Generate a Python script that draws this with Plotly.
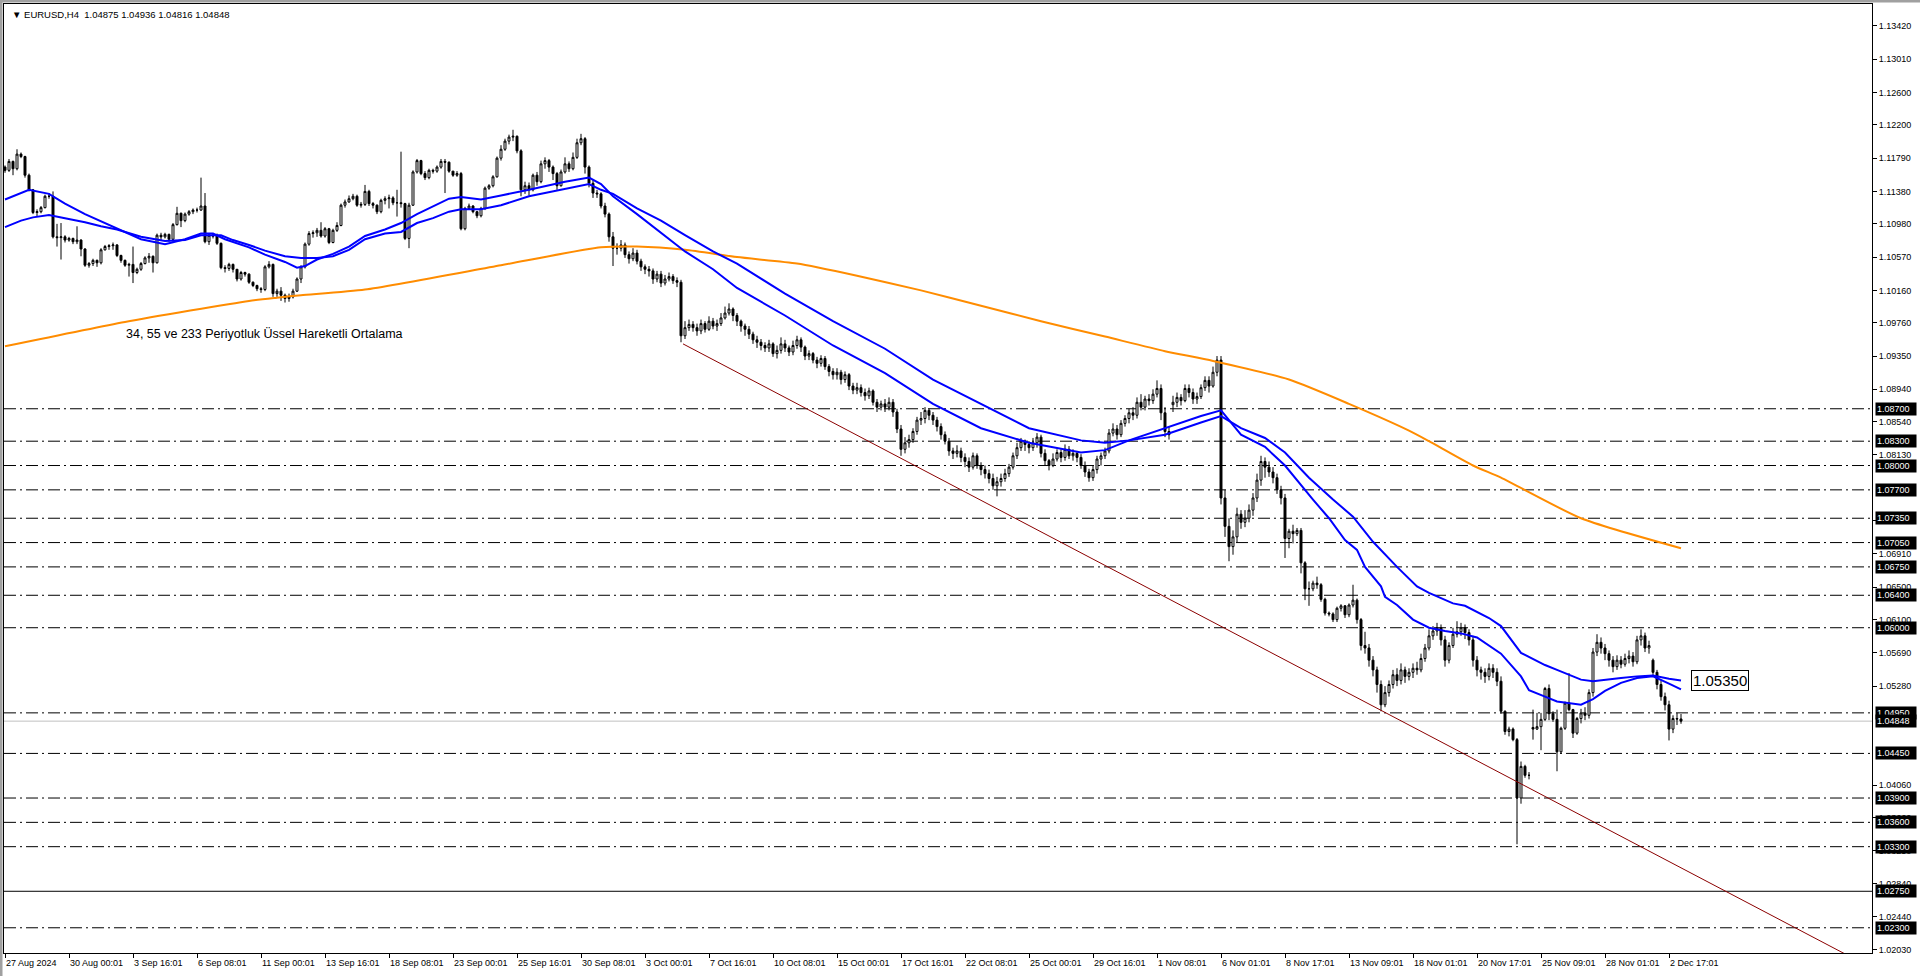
import plotly.graph_objects as go

FONT = "Liberation Sans"
PIP = 1e-4          # price = BASE + value * PIP
BASE = 1.0

# ---------------- candle data (EURUSD H4, values in pips above 1.0000) ----------------
first_open = 1168
gap_bars = [292, 382, 412]      # Monday gap opens
gap_opens = [875, 477, 560]

closes = [
 1164,1175,1166,1184,
 1181,1158,1140,1112,1113,1118,
 1132,1132,1082,1081,1082,1078,
 1080,1076,1078,1067,1047,1049,
 1053,1050,1066,1070,1071,1072,
 1059,1053,1047,1048,1038,1042,
 1049,1056,1058,1050,1084,1082,
 1085,1079,1097,1111,1102,1110,
 1113,1115,1115,1120,1076,1084,
 1083,1074,1044,1043,1048,1042,
 1030,1038,1036,1026,1022,1018,
 1017,1045,1048,1012,1015,1010,
 1006,1008,1015,1030,1045,1073,
 1086,1087,1090,1083,1092,1075,
 1090,1096,1121,1125,1129,1132,
 1121,1122,1138,1123,1121,1113,
 1127,1129,1130,1124,1124,1123,
 1080,1121,1162,1176,1160,1155,
 1164,1163,1168,1175,1174,1163,
 1158,1160,1092,1117,1120,1113,
 1108,1117,1142,1145,1156,1179,
 1190,1200,1205,1206,1188,1140,
 1145,1140,1158,1150,1172,1176,
 1168,1160,1145,1162,1172,1166,
 1180,1198,1203,1168,1148,1136,
 1135,1120,1110,1082,1068,1068,
 1072,1060,1055,1062,1052,1045,
 1042,1040,1030,1036,1025,1030,
 1033,1028,1026,960,970,974,
 970,966,975,968,978,972,
 975,982,988,993,985,978,
 972,968,962,955,952,948,
 945,950,938,942,950,945,
 940,948,955,946,935,938,
 930,926,932,922,916,912,
 915,906,912,898,893,896,
 890,886,892,878,872,876,
 872,878,866,845,820,828,
 832,842,856,858,868,862,
 856,848,838,830,818,815,
 818,810,805,798,812,800,
 795,790,784,775,780,784,
 790,798,812,822,830,826,
 822,828,835,815,806,800,
 808,816,810,820,812,815,
 810,800,792,785,795,808,
 812,818,840,845,838,852,
 858,865,862,878,872,882,
 880,888,895,865,842,838,
 878,884,880,895,890,882,
 885,896,905,898,915,930,
 760,725,700,712,740,730,
 735,745,760,782,805,798,
 792,785,770,760,710,719,
 716,720,680,648,648,655,
 653,635,618,617,610,624,
 627,616,628,634,610,578,
 575,560,548,530,505,520,
 530,542,535,548,540,545,
 550,548,562,575,590,596,
 600,585,560,578,592,595,
 600,594,585,560,548,545,
 540,550,545,534,497,472,
 475,462,390,429,418,418,
 475,478,487,525,494,487,
 447,476,507,499,470,488,
 495,492,520,570,582,575,
 568,560,552,560,555,562,
 565,558,585,590,575,578,
 545,530,515,505,475,488,
 487.5,484.8,
]

highs = [
 1170,1178,1176,1190,
 1186,1182,1160,1141,1116,1120,
 1134,1136,1138,1098,1099,1084,
 1082,1081,1095,1079,1068,1051,
 1055,1054,1068,1072,1073,1075,
 1073,1060,1054,1050,1070,1044,
 1051,1058,1062,1059,1086,1087,
 1087,1086,1099,1119,1112,1112,
 1115,1117,1118,1155,1136,1086,
 1086,1086,1075,1047,1050,1049,
 1042,1040,1039,1037,1027,1023,
 1020,1047,1052,1049,1018,1020,
 1012,1012,1018,1032,1047,1075,
 1089,1090,1093,1100,1094,1093,
 1092,1100,1123,1128,1133,1135,
 1134,1125,1146,1140,1125,1122,
 1129,1132,1134,1132,1140,1187,
 1124,1124,1164,1178,1177,1163,
 1166,1166,1170,1178,1178,1175,
 1163,1163,1162,1119,1123,1121,
 1114,1119,1144,1147,1158,1181,
 1195,1203,1208,1214,1207,1190,
 1150,1149,1160,1162,1176,1180,
 1178,1170,1162,1165,1180,1175,
 1186,1203,1209,1205,1170,1152,
 1140,1137,1124,1112,1088,1074,
 1078,1075,1064,1068,1066,1055,
 1048,1046,1043,1040,1040,1035,
 1038,1036,1032,1029,978,980,
 978,975,980,978,984,982,
 980,988,996,1000,995,988,
 980,975,972,965,960,956,
 952,955,952,948,958,955,
 948,954,960,958,948,942,
 940,934,936,935,925,920,
 920,918,916,914,902,902,
 900,895,896,894,882,880,
 882,884,882,870,850,835,
 838,846,860,866,872,870,
 866,860,852,842,834,822,
 825,822,815,810,816,815,
 804,800,795,790,786,790,
 796,802,816,828,834,832,
 830,834,840,838,820,808,
 815,820,820,826,824,820,
 818,814,805,796,800,812,
 816,822,845,852,850,856,
 862,870,872,884,888,886,
 888,894,905,900,872,848,
 886,890,888,900,900,895,
 890,900,910,910,922,935,
 935,770,735,720,748,745,
 745,752,766,790,812,810,
 805,798,790,775,765,722,
 727,723,723,682,657,658,
 663,655,637,620,619,626,
 629,628,630,653,636,612,
 595,580,565,552,535,528,
 535,548,550,556,552,550,
 556,558,568,580,598,602,
 606,604,590,582,600,608,
 606,604,598,590,565,552,
 550,556,555,550,540,498,
 478,477,464,435,431,422,
 499,495,495,527,530,497,
 499,478,509,544,500,490,
 500,502,524,575,592,588,
 580,572,565,566,565,568,
 572,570,590,598,594,584,
 562,548,535,520,510,492,
 495,493.6,
]

lows = [
 1161,1162,1158,1164,
 1179,1155,1138,1110,1107,1111,
 1117,1129,1080,1070,1054,1075,
 1076,1073,1073,1058,1045,1044,
 1046,1045,1048,1065,1066,1066,
 1057,1050,1045,1033,1025,1036,
 1040,1048,1050,1038,1049,1078,
 1080,1076,1076,1096,1094,1100,
 1108,1110,1112,1114,1074,1072,
 1080,1072,1042,1038,1040,1038,
 1027,1028,1033,1024,1020,1015,
 1013,1015,1043,1008,1008,1003,
 1001,1002,1006,1014,1025,1043,
 1071,1081,1082,1081,1081,1073,
 1074,1088,1095,1118,1124,1127,
 1119,1118,1120,1120,1117,1110,
 1111,1122,1117,1121,1107,1118,
 1078,1068,1120,1160,1158,1152,
 1153,1160,1161,1166,1136,1161,
 1156,1156,1090,1090,1116,1111,
 1105,1106,1115,1140,1143,1155,
 1176,1188,1196,1200,1185,1132,
 1135,1133,1138,1145,1148,1166,
 1162,1152,1140,1144,1160,1162,
 1164,1178,1195,1160,1143,1130,
 1130,1117,1106,1076,1046,1060,
 1064,1056,1049,1052,1048,1040,
 1036,1033,1024,1026,1020,1022,
 1027,1024,1020,952,956,966,
 965,960,962,964,966,968,
 966,972,980,985,978,972,
 965,960,956,950,945,942,
 940,940,934,932,938,940,
 935,936,944,940,930,930,
 926,920,922,918,910,906,
 906,900,902,893,888,888,
 885,880,882,874,866,868,
 866,868,860,840,812,815,
 822,828,838,850,852,856,
 850,842,832,826,812,808,
 810,804,798,792,795,796,
 788,784,778,770,762,774,
 780,786,795,808,818,818,
 815,818,822,810,800,794,
 798,805,804,806,808,806,
 804,796,786,780,781,790,
 800,808,815,836,832,835,
 848,852,856,858,868,868,
 874,876,884,856,835,832,
 866,872,874,878,884,876,
 876,882,892,890,896,910,
 752,712,682,690,705,722,
 724,730,738,755,775,785,
 786,778,765,752,686,698,
 704,713,667,634,627,645,
 648,632,615,614,607,607,
 620,612,613,625,605,572,
 568,552,540,520,497,502,
 515,525,528,530,532,535,
 538,542,545,558,572,585,
 590,578,552,556,575,588,
 590,586,578,552,540,536,
 532,535,538,528,494,468,
 466,460,333,383,415,413,
 462,474,449,485,486,484,
 423,445,474,497,464,468,
 482,486,488,515,565,568,
 560,552,545,548,550,552,
 556,552,555,578,570,568,
 540,524,510,498,461,470,
 480,481.6,
]

# ---------------- moving averages (bar index, pips) ----------------
ema34_x = [0,6,11,15,20,24,28,34,40,45,49,52,55,61,65,70,73,75,78,82,86,90,95,99,103,107,111,114,119,124,
           131,140,146,149,152,158,164,170,177,183,195,207,220,232,244,256,269,275,281,290,299,304,309,315,320,
           327,331,335,338,340,344,345,348,352,356,360,364,368,371,374,379,381,385,388,394,397,400,404,408,412,416,419]
ema34_y = [1128,1140,1135,1123,1110,1101,1092,1079,1073,1079,1086,1086,1079,1069,1060,1051,1044,1046,1054,1061,
           1070,1083,1091,1099,1110,1120,1129,1131,1128,1133,1140,1150,1155,1147,1132,1110,1087,1064,1042,1019,
           985,948,914,876,846,828,816,819,831,846,861,868,838,823,800,758,735,708,696,675,
           651,638,628,610,600,596,593,588,578,568,540,523,515,509,505,512,522,532,538,540,531,524]

ema55_x = [0,4,7,11,15,20,24,28,34,40,45,49,54,57,61,65,70,74,78,82,86,90,95,99,103,107,111,114,119,124,
           131,146,149,152,158,164,170,177,183,195,207,220,232,244,256,269,275,281,290,299,304,309,315,320,326,
           332,337,342,348,353,356,362,365,371,374,379,381,385,388,394,397,400,404,408,412,416,419]
ema55_y = [1094,1102,1106,1109,1105,1100,1095,1091,1082,1077,1078,1084,1084,1078,1072,1065,1058,1056,1056,1058,
           1066,1079,1086,1088,1099,1105,1113,1116,1116,1121,1132,1147,1140,1135,1117,1102,1084,1064,1049,1012,
           978,944,906,876,846,831,828,831,838,853,861,846,834,816,785,758,737,706,675,651,
           643,630,627,612,602,569,564,554,548,536,534,536,538,540,541,537,535]

ema233_x = [0,30,61,68,74,90,124,149,158,170,183,198,213,229,244,259,275,290,302,321,336,351,356,367,374,394,419]
ema233_y = [947,977,1003,1007,1010,1017,1047,1069,1070,1066,1057,1049,1034,1016,997,978,959,941,929,906,876,843,830,800,785,735,698]

trend_x = [169.5, 463]
trend_y = [950, 190]

# ---------------- levels, axes ----------------
dash_levels = [1.0870, 1.0830, 1.0800, 1.0770, 1.0735, 1.0705, 1.0675, 1.0640, 1.0600,
               1.0495, 1.0445, 1.0390, 1.0360, 1.0330, 1.0230]
solid_levels = [1.0275]
ema_label_value = 1.05350

ytick_vals = [1.13420, 1.13010, 1.12600, 1.12200, 1.11790, 1.11380, 1.10980, 1.10570, 1.10160, 1.09760,
              1.09350, 1.08940, 1.08540, 1.08130, 1.07320, 1.06910, 1.06500, 1.06100, 1.05690,
              1.05280, 1.04060, 1.03660, 1.03250, 1.02840, 1.02440, 1.02030]

xtick_bars = [0, 16, 32, 48, 64, 80, 96, 112, 128, 144, 160, 176, 192, 208, 224, 240, 256, 272, 288, 304,
              320, 336, 352, 368, 384, 400, 416]
xtick_text = ["27 Aug 2024", "30 Aug 00:01", "3 Sep 16:01", "6 Sep 08:01", "11 Sep 00:01", "13 Sep 16:01",
              "18 Sep 08:01", "23 Sep 00:01", "25 Sep 16:01", "30 Sep 08:01", "3 Oct 00:01", "7 Oct 16:01",
              "10 Oct 08:01", "15 Oct 00:01", "17 Oct 16:01", "22 Oct 08:01", "25 Oct 00:01", "29 Oct 16:01",
              "1 Nov 08:01", "6 Nov 01:01", "8 Nov 17:01", "13 Nov 09:01", "18 Nov 01:01", "20 Nov 17:01",
              "25 Nov 09:01", "28 Nov 01:01", "2 Dec 17:01"]

ma_label = "34, 55 ve 233 Periyotluk Üssel Hareketli Ortalama"
ma_label_pos = (29.75, 962)

# ---------------- build ----------------
def px(v):
    return BASE + v * PIP

n = len(closes)
opens = []
for i in range(n):
    if i == 0:
        o = first_open
    elif i in gap_bars:
        o = gap_opens[gap_bars.index(i)]
    else:
        o = closes[i - 1]
    opens.append(o)

O = [px(v) for v in opens]
C = [px(v) for v in closes]
H = [px(max(h, o, c)) for h, o, c in zip(highs, opens, closes)]
L = [px(min(l, o, c)) for l, o, c in zip(lows, opens, closes)]
X = list(range(n))

fig = go.Figure()

fig.add_trace(go.Candlestick(
    x=X, open=O, high=H, low=L, close=C,
    increasing=dict(line=dict(color="black", width=1), fillcolor="white"),
    decreasing=dict(line=dict(color="black", width=1), fillcolor="black"),
    whiskerwidth=0, hoverinfo="skip", showlegend=False))

fig.add_trace(go.Scatter(x=ema233_x, y=[px(v) for v in ema233_y], mode="lines", line_shape="spline",
                         line=dict(color="#FF8C00", width=2, smoothing=0.6), hoverinfo="skip", showlegend=False))
fig.add_trace(go.Scatter(x=ema55_x, y=[px(v) for v in ema55_y], mode="lines",
                         line=dict(color="#0000FF", width=2), hoverinfo="skip", showlegend=False))
fig.add_trace(go.Scatter(x=ema34_x, y=[px(v) for v in ema34_y], mode="lines",
                         line=dict(color="#0000FF", width=2), hoverinfo="skip", showlegend=False))
fig.add_trace(go.Scatter(x=trend_x, y=[px(v) for v in trend_y], mode="lines",
                         line=dict(color="#8B0000", width=1), hoverinfo="skip", showlegend=False))

shapes = []
for v in dash_levels:
    shapes.append(dict(type="line", xref="paper", x0=0, x1=1, yref="y", y0=v, y1=v,
                       line=dict(color="black", width=1, dash="12px,4px,2px,4px"), layer="below"))
for v in solid_levels:
    shapes.append(dict(type="line", xref="paper", x0=0, x1=1, yref="y", y0=v, y1=v,
                       line=dict(color="black", width=1), layer="below"))
bid = C[-1]
shapes.append(dict(type="line", xref="paper", x0=0, x1=1, yref="y", y0=bid, y1=bid,
                   line=dict(color="#C0C0C0", width=1), layer="below"))
# window frame bands
shapes.append(dict(type="rect", xref="paper", yref="paper", x0=-0.003, x1=1.03, y0=1.0017, y1=1.0045,
                   fillcolor="#A0A0A0", line=dict(width=0)))
shapes.append(dict(type="rect", xref="paper", yref="paper", x0=-0.0022, x1=-0.0008, y0=-0.03, y1=1.0045,
                   fillcolor="#A0A0A0", line=dict(width=0)))

ann = []
for b, t in zip(xtick_bars, xtick_text):
    ann.append(dict(x=b, xref="x", y=0, yref="paper", text=t, showarrow=False,
                    xanchor="left", yanchor="top", yshift=-3, xshift=-1,
                    font=dict(family=FONT, size=9, color="black")))
for v in dash_levels + solid_levels + [bid]:
    ann.append(dict(x=1, xref="paper", y=v, yref="y", text=f"{v:.5f}", showarrow=False,
                    xanchor="left", yanchor="middle", xshift=3, bgcolor="black", borderpad=1,
                    width=38, height=10, align="left",
                    font=dict(family=FONT, size=9, color="white")))
ann.append(dict(x=ma_label_pos[0], xref="x", y=px(ma_label_pos[1]), yref="y", text=ma_label,
                showarrow=False, xanchor="left", yanchor="middle",
                font=dict(family=FONT, size=12.5, color="black")))
ann.append(dict(x=421.5, xref="x", y=ema_label_value, yref="y", text=f"{ema_label_value:.5f}",
                showarrow=False, xanchor="left", yanchor="middle", bgcolor="white",
                bordercolor="black", borderwidth=1, borderpad=1,
                font=dict(family=FONT, size=15, color="black")))
header = ("▼ EURUSD,H4\u00a0\u00a0" + " ".join(f"{v:.5f}" for v in (O[-1], H[-1], L[-1], C[-1])))
ann.append(dict(x=0, xref="paper", y=1, yref="paper", text=header, showarrow=False,
                xanchor="left", yanchor="top", xshift=6, yshift=-3,
                font=dict(family=FONT, size=9.5, color="black")))

fig.update_layout(
    width=1920, height=976,
    margin=dict(l=4, r=48, t=4, b=23),
    paper_bgcolor="white", plot_bgcolor="white",
    hovermode=False, showlegend=False,
    shapes=shapes, annotations=ann,
    xaxis=dict(range=[-0.25, 466.75], showgrid=False, zeroline=False, showline=True, mirror=True,
               linecolor="black", linewidth=1, ticks="outside", ticklen=4, tickcolor="black",
               tickvals=xtick_bars, showticklabels=False, rangeslider=dict(visible=False),
               fixedrange=True),
    yaxis=dict(range=[1.01989, 1.13691], side="right", showgrid=False, zeroline=False, showline=True,
               mirror=True, linecolor="black", linewidth=1, ticks="outside", ticklen=4,
               tickcolor="black", tickvals=ytick_vals, ticktext=[f"{v:.5f}" for v in ytick_vals],
               tickfont=dict(family=FONT, size=9, color="black"), fixedrange=True),
)

fig.write_html("out.html", config={"displayModeBar": False},
               post_script="document.body.style.margin='0';document.body.style.overflow='hidden';")
